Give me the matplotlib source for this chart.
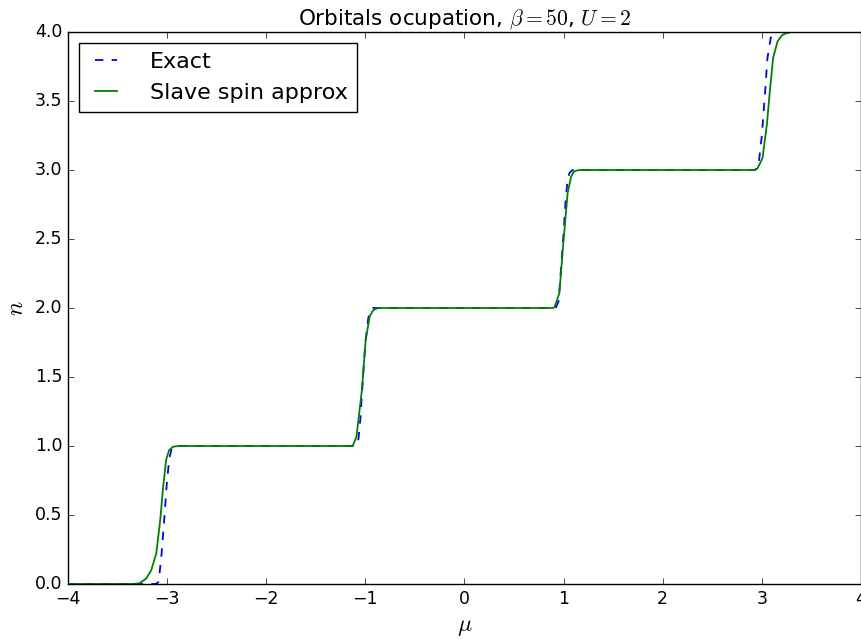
import matplotlib
matplotlib.use("Agg")
import matplotlib.pyplot as plt

# occupation: exact solution
mu_exact = [-4.0, -3.12, -3.09, -3.08, -3.056, -3.03, -3.006, -2.98, -2.955, -2.93,
            -1.10, -1.07, -1.05, -1.03, -1.00, -0.97, -0.95, -0.92,
            0.92, 0.95, 0.97, 1.00, 1.02, 1.04, 1.06, 1.09,
            2.93, 2.965, 3.00, 3.033, 3.056, 3.09, 3.12, 4.0]
n_exact = [0.0, 0.0, 0.01, 0.05, 0.22, 0.46, 0.705, 0.90, 0.98, 1.0,
           1.0, 1.05, 1.20, 1.43, 1.75, 1.93, 1.98, 2.0,
           2.0, 2.05, 2.25, 2.55, 2.78, 2.93, 2.98, 3.0,
           3.0, 3.03, 3.25, 3.57, 3.81, 3.96, 4.0, 4.0]

# slave spin approximation
mu_ss = [-4.0, -3.35, -3.28, -3.21, -3.16, -3.11, -3.07, -3.04, -3.01, -2.98, -2.94, -2.88,
         -1.14, -1.125, -1.09, -1.035, -0.997, -0.957, -0.93, -0.907, -0.87,
         0.89, 0.907, 0.957, 0.997, 1.04, 1.075, 1.10, 1.125, 1.16,
         2.93, 2.955, 3.006, 3.05, 3.08, 3.113, 3.157, 3.20, 3.24, 3.3, 4.0]
n_ss = [0.0, 0.0, 0.005, 0.04, 0.10, 0.22, 0.46, 0.705, 0.90, 0.97, 0.995, 1.0,
        1.0, 1.005, 1.067, 1.406, 1.768, 1.937, 1.975, 1.99, 2.0,
        2.0, 2.005, 2.107, 2.47, 2.83, 2.95, 2.985, 2.995, 3.0,
        3.0, 3.01, 3.085, 3.326, 3.567, 3.81, 3.93, 3.975, 3.99, 4.0, 4.0]

plt.style.use("classic")
fig = plt.figure(figsize=(8.62, 6.39), dpi=100)
ax = fig.add_axes([68 / 862, 55 / 639, 793 / 862, 552 / 639])

ax.plot(mu_exact, n_exact, "b--", lw=1.3, dashes=(6, 6), label="Exact")
ax.plot(mu_ss, n_ss, "g-", lw=1.3, label="Slave spin approx")

ax.set_xlim(-4, 4)
ax.set_ylim(0, 4)
ax.tick_params(labelsize=12.5)
ax.set_xlabel(r"$\mu$", fontsize=17)
ax.set_ylabel(r"$n$", fontsize=17)
ax.set_title(r"Orbitals ocupation, $\beta=50$, $U=2$", fontsize=15.5)
ax.legend(loc="upper left", fontsize=16, handlelength=1.6, handletextpad=1.2)

fig.savefig("out.png", dpi=100)
